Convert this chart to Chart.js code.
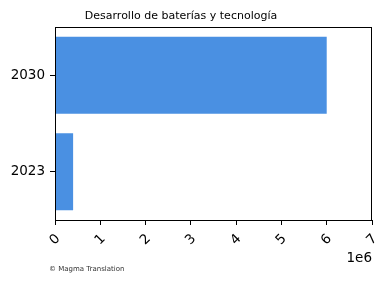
<!DOCTYPE html>
<html>
<head>
<meta charset="utf-8">
<script src="https://cdn.jsdelivr.net/npm/chart.js@4"></script>
<style>
  html, body { margin:0; padding:0; background:#fff; }
  #wrap { width:390px; height:282px; }
</style>
</head>
<body>
<div id="wrap"><canvas id="chart" width="390" height="282"></canvas></div>
<script>
const titleText = "Desarrollo de baterías y tecnología";
const creditText = "© Magma Translation";
const years = ["2023", "2030"];
const capacity = [400000, 6000000];
const xTicks = [0, 1, 2, 3, 4, 5, 6, 7];
const xScaleExp = "1e6";

const barColor = "#4a90e2";
const fontFam = "'DejaVu Sans', sans-serif";

// frame, title, offset text and credit (matplotlib style)
const decor = {
  id: "decor",
  afterDraw(chart){
    const {ctx, chartArea:a} = chart;
    ctx.save();
    ctx.strokeStyle = "#000";
    ctx.lineWidth = 1;
    ctx.strokeRect(Math.round(a.left)+0.5, Math.round(a.top)+0.5, Math.round(a.right-a.left)-1, Math.round(a.bottom-a.top));
    ctx.fillStyle = "#000";
    ctx.font = "11px " + fontFam;
    ctx.textAlign = "center";
    ctx.textBaseline = "alphabetic";
    ctx.fillText(titleText, 181, 19);
    ctx.font = "13.5px " + fontFam;
    ctx.textAlign = "right";
    ctx.fillText(xScaleExp, a.right, 262);
    ctx.font = "7px " + fontFam;
    ctx.fillStyle = "#333";
    ctx.textAlign = "left";
    ctx.fillText(creditText, 49, 271);
    ctx.restore();
  }
};

new Chart(document.getElementById("chart"), {
  type: "bar",
  data: {
    labels: years,
    datasets: [{ data: capacity, backgroundColor: barColor, borderWidth: 0,
      categoryPercentage: 0.8, barPercentage: 1 }]
  },
  options: {
    indexAxis: "y",
    responsive: false,
    animation: false,
    layout: { padding: { top: 27, right: 18, left: 0, bottom: 0 } },
    plugins: { legend: { display:false }, tooltip: { enabled:false }, title: { display:false } },
    scales: {
      x: {
        type: "linear", min: 0, max: 7000000,
        afterBuildTicks: (s) => { s.ticks = xTicks.map(v => ({ value: v*1e6 })); },
        ticks: { autoSkip:false, minRotation:45, maxRotation:45, color:"#000", padding:6, labelOffset:3,
          font:{ family:fontFam, size:13.5 }, callback: (v) => String(v/1e6) },
        grid: { drawOnChartArea:false, drawTicks:true, tickLength:5, color:"#000" },
        border: { display:true, color:"#000" },
        afterFit: (s) => { s.height = 62; s.paddingLeft = 0; s.paddingRight = 0; }
      },
      y: {
        type: "category", reverse: true,
        ticks: { color:"#000", padding:5, font:{ family:fontFam, size:13.5 } },
        grid: { offset:false, drawOnChartArea:false, drawTicks:true, tickLength:5, color:"#000" },
        border: { display:true, color:"#000" },
        afterFit: (s) => { s.width = 55; s.paddingTop = 0; s.paddingBottom = 0; }
      }
    }
  },
  plugins: [decor]
});
</script>
</body>
</html>
